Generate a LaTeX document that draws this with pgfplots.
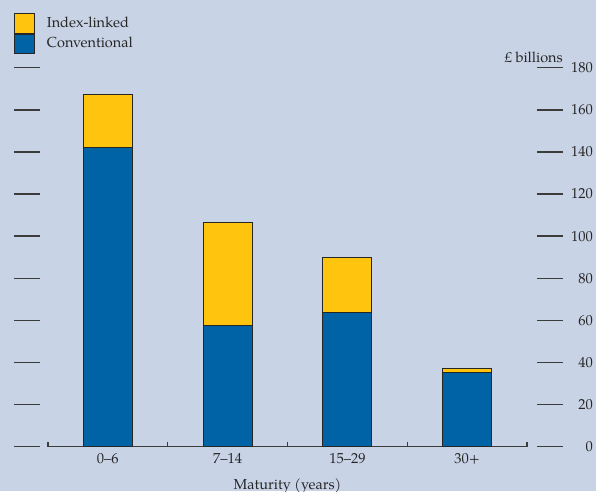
\documentclass[border=0pt]{standalone}
\usepackage{fontspec}
\setmainfont{TeX Gyre Pagella}
\usepackage{pgfplots}
\pgfplotsset{compat=1.18}

\definecolor{bgblue}{HTML}{C9D3E6}
\definecolor{convblue}{HTML}{0063A6}
\definecolor{ilyellow}{HTML}{FFC40E}
\definecolor{inkgrey}{HTML}{3C3C3C}
\definecolor{baredge}{HTML}{262626}

\begin{document}
\fontsize{14.5}{17}\selectfont
\begin{tikzpicture}
\fill[bgblue] (0pt,0pt) rectangle (596pt,-491pt);
\useasboundingbox (0pt,0pt) rectangle (596pt,-491pt);

% value scale: free-standing tick strokes on both sides
\begin{axis}[
  at={(14pt,-446.7pt)}, anchor=south west, scale only axis,
  width=549pt, height=379pt,
  xmin=0, xmax=1, ymin=0, ymax=180,
  hide x axis,
  axis line style={draw=none},
  ytick={0,20,...,180},
  yticklabels={},
  ytick pos=both,
  tick align=inside, major tick length=26pt,
  tick style={draw=inkgrey, line width=1.4pt},
]
\end{axis}

% value scale: numbers, right-aligned at the right margin
\begin{axis}[
  at={(593pt,-446.7pt)}, anchor=south west, scale only axis,
  width=2pt, height=379pt,
  xmin=0, xmax=1, ymin=0, ymax=180,
  hide x axis,
  axis line style={draw=none},
  ytick={0,20,...,180},
  ytick pos=left,
  major tick length=0pt,
  tick style={draw=none},
  /pgf/number format/assume math mode=true,
  yticklabel style={inner sep=0pt, text=black!85},
]
\end{axis}

% stacked bars by maturity band
\begin{axis}[
  at={(48pt,-446.7pt)}, anchor=south west, scale only axis,
  width=479pt, height=379pt,
  xmin=0, xmax=4, ymin=0, ymax=180,
  clip=false,
  ybar stacked, bar width=0.41,
  hide y axis,
  axis x line*=bottom,
  axis line style={-, draw=inkgrey, line width=1.3pt},
  xtick={0.5,1.5,2.5,3.5},
  xticklabels={0–6,7–14,15–29,30+},
  major x tick style={draw=none},
  minor xtick={0,1,2,3,4},
  minor tick length=4.5pt, tick align=inside,
  minor x tick style={draw=inkgrey, line width=1.1pt},
  xticklabel style={yshift=-2pt, text=black!85},
  xlabel={Maturity (years)},
  xlabel style={at={(axis description cs:0.5,0)}, anchor=base, yshift=-43pt, text=black!85},
  legend image code/.code={\draw[#1] (0pt,-9.75pt) rectangle (20pt,9.75pt);},
  reverse legend,
  legend cell align=left,
  legend style={at={(axis description cs:-0.071,1.1438)}, anchor=north west,
    draw=none, fill=none, inner sep=0pt, outer sep=0pt, row sep=0pt,
    nodes={inner sep=0pt, minimum height=19.5pt, text=black!85},
    /tikz/every odd column/.append style={column sep=12pt}},
]
\addplot[fill=convblue, draw=baredge, line width=0.9pt]
  coordinates {(0.5,141.9) (1.5,57.8) (2.5,63.6) (3.5,35.3)};
\addlegendentry{Conventional}
\addplot[fill=ilyellow, draw=baredge, line width=0.9pt]
  coordinates {(0.5,25.5) (1.5,48.6) (2.5,26.4) (3.5,1.9)};
\addlegendentry{Index-linked}
\node[anchor=base east, inner sep=0pt, text=black!85]
  at (axis description cs:1.0752,1.0142) {£ billions};
\end{axis}
\end{tikzpicture}
\end{document}
